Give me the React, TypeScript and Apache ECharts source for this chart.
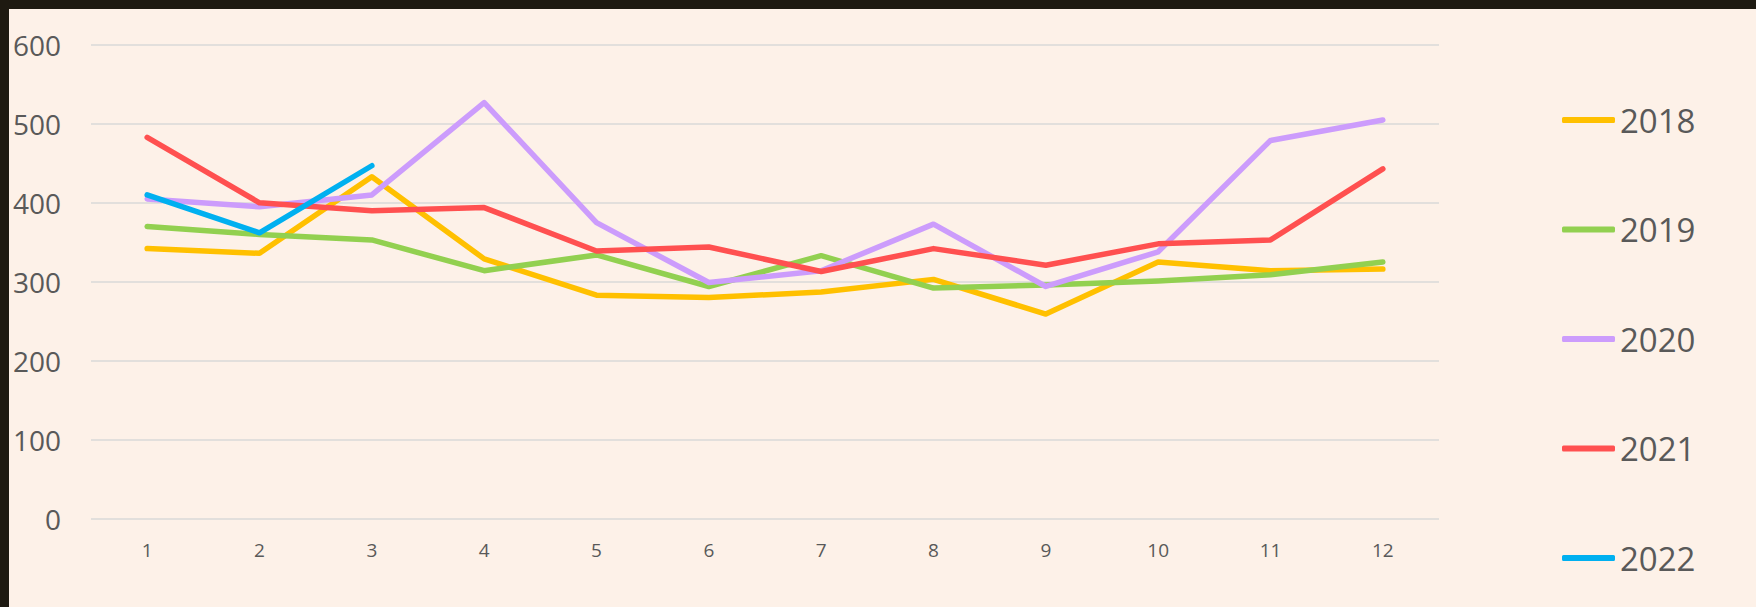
import React, { useEffect, useRef } from "react";
import * as echarts from "echarts";

const months = ["1", "2", "3", "4", "5", "6", "7", "8", "9", "10", "11", "12"];
const s2018 = [342, 336, 433, 329, 283, 280, 287, 303, 259, 325, 314, 316];
const s2019 = [370, 360, 353, 314, 334, 294, 333, 292, 296, 301, 309, 325];
const s2020 = [405, 395, 410, 527, 375, 299, 314, 373, 294, 338, 479, 505];
const s2021 = [483, 400, 390, 394, 339, 344, 313, 342, 321, 348, 353, 443];
const s2022 = [410, 362, 447];
const seriesNames = ["2018", "2019", "2020", "2021", "2022"];
const seriesColors = ["#FFC000", "#92D050", "#CC9CFC", "#FF5050", "#00B0F0"];
const yTicks = [0, 100, 200, 300, 400, 500, 600];

export default function App() {
  const ref = useRef<HTMLDivElement>(null);
  useEffect(() => {
    if (!ref.current) return;
    const chart = echarts.init(ref.current, null, { renderer: "svg" });
    const data = [s2018, s2019, s2020, s2021, s2022];
    chart.setOption({
      animation: false,
      backgroundColor: "#FDF1E8",
      textStyle: { fontFamily: "Open Sans" },
      graphic: [
        { type: "rect", left: 0, top: 0, shape: { width: 1756, height: 9 }, style: { fill: "#1E1A11" } },
        { type: "rect", left: 0, top: 0, shape: { width: 9, height: 607 }, style: { fill: "#1E1A11" } },
      ],
      grid: { left: 91, right: 317, top: 45, bottom: 88.5 },
      legend: {
        orient: "vertical",
        left: 1557,
        top: 95,
        itemWidth: 53,
        itemHeight: 6,
        itemGap: 69.5,
        icon: "roundRect",
        textStyle: { fontSize: 33, color: "#595959", lineHeight: 40, fontFamily: "Open Sans" },
        data: seriesNames,
      },
      xAxis: {
        type: "category",
        data: months,
        boundaryGap: true,
        axisLine: { show: false },
        axisTick: { show: false },
        axisLabel: { color: "#595959", fontSize: 19, margin: 22, fontFamily: "Open Sans" },
      },
      yAxis: {
        type: "value",
        min: yTicks[0],
        max: yTicks[yTicks.length - 1],
        interval: 100,
        axisLine: { show: false },
        axisTick: { show: false },
        axisLabel: { color: "#595959", fontSize: 28, margin: 30, fontFamily: "Open Sans" },
        splitLine: { lineStyle: { color: "#D9D9D9", width: 1.5 } },
      },
      series: seriesNames.map((name, i) => ({
        name,
        type: "line",
        data: data[i],
        symbol: "none",
        color: seriesColors[i],
        lineStyle: { width: 5.5, color: seriesColors[i], cap: "round", join: "round" },
        itemStyle: { color: seriesColors[i] },
      })),
    });
    return () => chart.dispose();
  }, []);
  return (
    <div
      ref={ref}
      style={{ position: "absolute", left: 0, top: 0, width: 1756, height: 607 }}
    />
  );
}
